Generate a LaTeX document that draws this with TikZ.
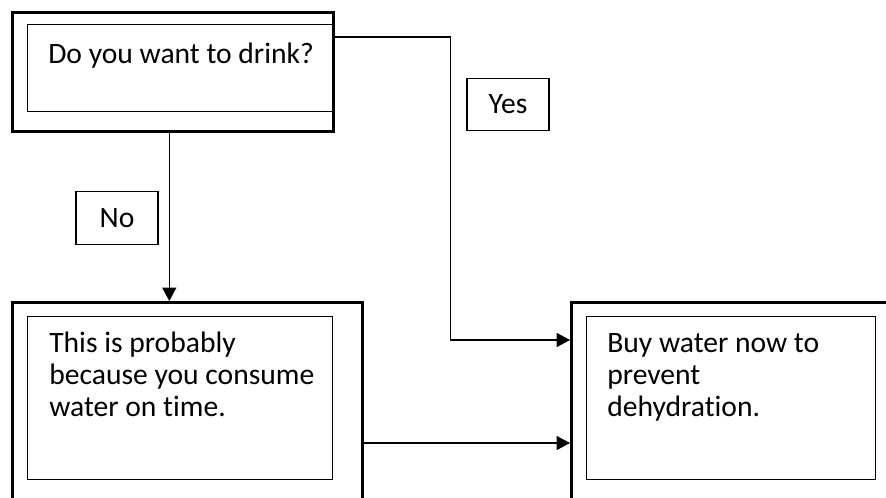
\documentclass[tikz,border=0pt]{standalone}
\usepackage{fontspec}
\setmainfont{Carlito}[Ligatures=CommonOff]
\usetikzlibrary{arrows.meta,positioning}

\begin{document}
\begin{tikzpicture}[x=0.75pt,y=-0.75pt,font=\fontsize{22.2}{23.8}\selectfont,
 >={Triangle[length=10pt,width=10.5pt]},
 frame/.style={draw,line width=1.9pt,inner sep=0pt,anchor=north west},
 box/.style={draw,line width=0.9pt,inner sep=0pt,anchor=north west},
 txt/.style={anchor=base west,align=left,inner sep=0pt},
 tag/.style={draw,line width=0.9pt,inner sep=0pt,minimum width=61.5pt,minimum height=39.5pt},
 e/.style={->,line width=0.85pt}]
\useasboundingbox (0,0) rectangle (886,497);
\fill[white] (0,0) rectangle (886,497);
\clip (0,0) rectangle (886,497);
% outer frames
\node[frame,minimum width=240.75pt,minimum height=89.25pt] (askout) at (11,11) {};
\node[frame,minimum width=262.5pt,minimum height=187.5pt] (lowout) at (11,301) {};
\node[frame,minimum width=262.5pt,minimum height=187.5pt] (buyout) at (570,301) {};
% inner boxes
\node[box,minimum width=228.75pt,minimum height=65.25pt] (ask) at (27,24) {};
\node[box,minimum width=228.75pt,minimum height=122.25pt] (low) at (27,316) {};
\node[box,minimum width=216.75pt,minimum height=122.25pt] (buy) at (586,316) {};
% texts (anchored on the last line)
\node[txt] (askt) at (48,63) {Do you want to drink?};
\node[txt] (lowt) at (49,416.4) {This is probably\\because you consume\\water on time.};
\node[txt] (buyt) at (607,416.4) {Buy water now to\\prevent\\dehydration.};
% answers
\node[tag] (no) at (117,218) {No};
\node[tag] (yes) at (508,104.5) {Yes};
% links
\coordinate (askexit) at ([yshift=-9.75pt]ask.north east);
\coordinate (lowexit) at ([yshift=-106.5pt]lowout.north east);
\draw[e] ([xshift=-2.6pt]askout.south) -- ([xshift=-2.6pt]askout.south |- lowout.north);
\draw[e] (askexit) -- ++(117,0) |- ([yshift=-29.25pt]buyout.north west);
\draw[e] (lowexit) -- (lowexit -| buyout.west);
\end{tikzpicture}
\end{document}
